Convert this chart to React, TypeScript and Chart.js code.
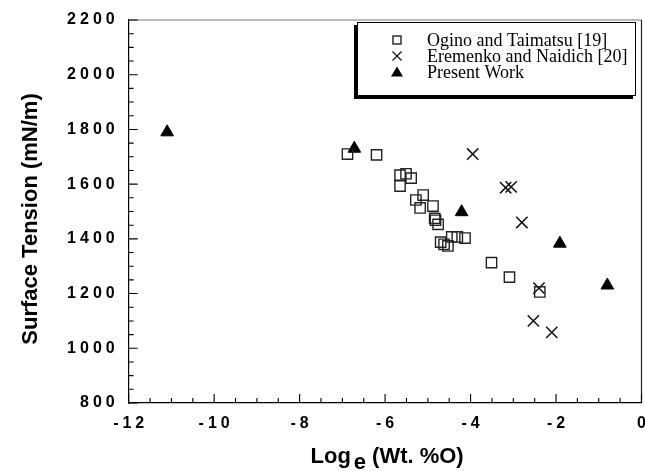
import React, { useEffect, useRef } from 'react';
import { Chart, registerables } from 'chart.js';

Chart.register(...registerables);

// Ogino and Taimatsu [19]
const oginoX = [-6.88, -6.2, -5.65, -5.51, -5.39, -5.65, -5.11, -5.28, -5.18, -4.88, -4.84, -4.82, -4.76, -4.7, -4.62, -4.53, -4.44, -4.31, -4.13, -3.51, -3.09, -2.38];
const oginoY = [1710, 1707, 1633, 1638, 1622, 1593, 1560, 1542, 1513, 1520, 1475, 1468, 1453, 1388, 1380, 1374, 1407, 1407, 1403, 1313, 1260, 1206];

// Eremenko and Naidich [20]
const eremenkoX = [-3.95, -3.18, -3.05, -2.8, -2.4, -2.53, -2.1];
const eremenkoY = [1710, 1587, 1590, 1460, 1220, 1100, 1058];

// Present Work
const presentX = [-11.1, -6.72, -4.21, -1.91, -0.8];
const presentY = [1790, 1730, 1498, 1383, 1230];

const xTicks = [-12, -10, -8, -6, -4, -2, 0];
const yTicks = [800, 1000, 1200, 1400, 1600, 1800, 2000, 2200];
const seriesNames = ['Ogino and Taimatsu [19]', 'Eremenko and Naidich [20]', 'Present Work'];
const yTitle = 'Surface Tension (mN/m)';
const xTitleMain = 'Log';
const xTitleSub = 'e';
const xTitleRest = '(Wt. %O)';

const toPoints = (xs: number[], ys: number[]) => xs.map((x, i) => ({ x, y: ys[i] }));

const SANS = '"Liberation Sans", Arial, sans-serif';

// Frame, inward ticks, spaced tick labels, axis titles and the boxed legend
const framePlugin = {
  id: 'frameTicks',
  afterDraw(chart: any) {
    const ctx = chart.ctx as any;
    const { left, right, top, bottom } = chart.chartArea;
    const xs = chart.scales.x;
    const ys = chart.scales.y;
    ctx.save();

    // frame: top and right
    ctx.lineWidth = 1.2;
    ctx.strokeStyle = '#777';
    ctx.beginPath();
    ctx.moveTo(left, top);
    ctx.lineTo(right, top);
    ctx.stroke();
    ctx.strokeStyle = '#222';
    ctx.beginPath();
    ctx.moveTo(right, top);
    ctx.lineTo(right, bottom);
    ctx.stroke();

    // tick marks (major + minor, pointing inward)
    ctx.strokeStyle = '#000';
    ctx.lineWidth = 1.1;
    ctx.beginPath();
    for (let v = -12; v <= 0.001; v += 0.5) {
      const px = xs.getPixelForValue(v);
      const major = Math.abs(v / 2 - Math.round(v / 2)) < 1e-6;
      const len = major ? 9 : 5;
      ctx.moveTo(px, bottom);
      ctx.lineTo(px, bottom - len);
    }
    for (let v = 800; v <= 2200; v += 50) {
      const py = ys.getPixelForValue(v);
      const major = v % 200 === 0;
      const len = major ? 9 : 5;
      ctx.moveTo(left, py);
      ctx.lineTo(left + len, py);
    }
    ctx.stroke();

    // tick labels
    ctx.fillStyle = '#000';
    ctx.font = `bold 16px ${SANS}`;
    ctx.letterSpacing = '4px';
    ctx.textBaseline = 'middle';
    ctx.textAlign = 'right';
    yTicks.forEach((v) => {
      ctx.fillText(String(v), left - 10, ys.getPixelForValue(v));
    });
    ctx.textAlign = 'center';
    xTicks.forEach((v) => {
      ctx.fillText(String(v), xs.getPixelForValue(v) + 2, bottom + 21);
    });
    ctx.letterSpacing = '0px';

    // y title
    ctx.font = `bold 22px ${SANS}`;
    ctx.textAlign = 'center';
    ctx.textBaseline = 'middle';
    ctx.save();
    ctx.translate(31, 219);
    ctx.rotate(-Math.PI / 2);
    ctx.fillText(yTitle, 0, 0);
    ctx.restore();

    // x title with subscript
    const wMain = ctx.measureText(xTitleMain).width;
    const wSub = ctx.measureText(xTitleSub).width;
    const wRest = ctx.measureText(xTitleRest).width;
    const gap1 = 3;
    const gap2 = 6;
    const total = wMain + gap1 + wSub + gap2 + wRest;
    let cx = (left + right) / 2 + 2 - total / 2;
    ctx.textAlign = 'left';
    ctx.textBaseline = 'alphabetic';
    ctx.fillText(xTitleMain, cx, 463);
    cx += wMain + gap1;
    ctx.fillText(xTitleSub, cx, 469);
    cx += wSub + gap2;
    ctx.fillText(xTitleRest, cx, 463);

    // legend box with offset shadow
    const bx = 357;
    const by = 22;
    const bw = 279;
    const bh = 74;
    ctx.fillStyle = '#000';
    ctx.fillRect(bx - 3, by + 3, bw, bh);
    ctx.fillStyle = '#fff';
    ctx.fillRect(bx, by, bw, bh);
    ctx.strokeStyle = '#000';
    ctx.lineWidth = 1;
    ctx.strokeRect(bx + 0.5, by + 0.5, bw - 1, bh - 1);

    const mx = 397;
    const tx = 427;
    const baselines = [46, 62, 78];
    ctx.font = `18px "Liberation Serif", "Times New Roman", serif`;
    ctx.textBaseline = 'alphabetic';
    ctx.textAlign = 'left';
    seriesNames.forEach((name, i) => {
      const b = baselines[i];
      const y = b - 6;
      ctx.fillStyle = '#000';
      ctx.fillText(name, tx, b);
      ctx.strokeStyle = '#111';
      ctx.lineWidth = 1.3;
      if (i === 0) {
        ctx.strokeRect(mx - 4, y - 4, 8, 8);
      } else if (i === 1) {
        ctx.beginPath();
        ctx.moveTo(mx - 4.5, y - 4.5);
        ctx.lineTo(mx + 4.5, y + 4.5);
        ctx.moveTo(mx + 4.5, y - 4.5);
        ctx.lineTo(mx - 4.5, y + 4.5);
        ctx.stroke();
      } else {
        ctx.beginPath();
        ctx.moveTo(mx, y - 5.5);
        ctx.lineTo(mx + 6, y + 4.5);
        ctx.lineTo(mx - 6, y + 4.5);
        ctx.closePath();
        ctx.fillStyle = '#000';
        ctx.fill();
      }
    });

    ctx.restore();
  },
};

export default function App() {
  const canvasRef = useRef<HTMLCanvasElement | null>(null);

  useEffect(() => {
    const canvas = canvasRef.current;
    if (!canvas) return;
    const chart = new Chart(canvas, {
      type: 'scatter',
      data: {
        datasets: [
          {
            label: seriesNames[0],
            data: toPoints(oginoX, oginoY),
            pointStyle: 'rect',
            pointRadius: 7.3,
            borderColor: '#222',
            borderWidth: 1.4,
            backgroundColor: 'rgba(0,0,0,0)',
          },
          {
            label: seriesNames[1],
            data: toPoints(eremenkoX, eremenkoY),
            pointStyle: 'crossRot',
            pointRadius: 8,
            borderColor: '#111',
            borderWidth: 1.5,
            backgroundColor: 'rgba(0,0,0,0)',
          },
          {
            label: seriesNames[2],
            data: toPoints(presentX, presentY),
            pointStyle: 'triangle',
            pointRadius: 7.3,
            borderColor: '#000',
            borderWidth: 1,
            backgroundColor: '#000',
          },
        ],
      },
      options: {
        animation: false,
        responsive: false,
        devicePixelRatio: 1,
        layout: { autoPadding: false, padding: { left: 0, top: 20, right: 3.5, bottom: 0 } },
        plugins: { legend: { display: false }, tooltip: { enabled: false } },
        scales: {
          x: {
            type: 'linear',
            min: -12,
            max: 0,
            afterBuildTicks: (s: any) => {
              s.ticks = xTicks.map((v) => ({ value: v }));
            },
            afterFit: (s: any) => {
              s.height = 68;
            },
            ticks: { display: false },
            grid: { display: false, drawTicks: false },
            border: { display: true, color: '#000', width: 1.2 },
          },
          y: {
            type: 'linear',
            min: 800,
            max: 2200,
            afterBuildTicks: (s: any) => {
              s.ticks = yTicks.map((v) => ({ value: v }));
            },
            afterFit: (s: any) => {
              s.width = 128.7;
            },
            ticks: { display: false },
            grid: { display: false, drawTicks: false },
            border: { display: true, color: '#000', width: 1.2 },
          },
        },
      },
      plugins: [framePlugin],
    });
    return () => chart.destroy();
  }, []);

  return (
    <div style={{ position: 'fixed', left: 0, top: 0, width: 645, height: 471, background: '#fff' }}>
      <canvas ref={canvasRef} width={645} height={471} style={{ display: 'block' }} />
    </div>
  );
}
